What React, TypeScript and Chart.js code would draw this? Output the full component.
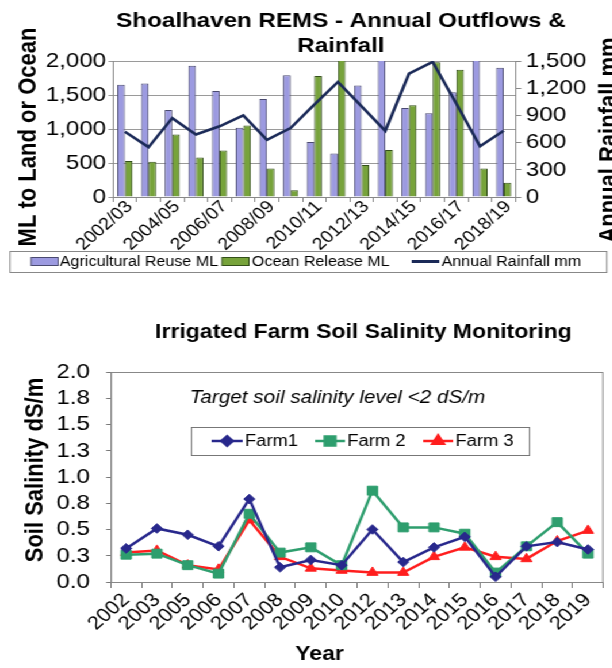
import React, { useEffect, useRef } from 'react';
import { Chart, registerables } from 'chart.js';
import { drawPoint } from 'chart.js/helpers';

Chart.register(...registerables);

// ---------- data ----------
const seasons = ['2002/03', '2003/04', '2004/05', '2005/06', '2006/07', '2007/08', '2008/09', '2009/10', '2010/11', '2011/12', '2012/13', '2013/14', '2014/15', '2015/16', '2016/17', '2017/18', '2018/19'];
const agriculturalReuse = [1650, 1670, 1280, 1930, 1560, 1020, 1440, 1790, 810, 640, 1640, 2100, 1310, 1230, 1540, 2100, 1900];
const oceanRelease = [530, 520, 920, 580, 685, 1050, 420, 100, 1780, 2050, 470, 690, 1350, 1980, 1870, 420, 210];
const annualRainfall = [720, 550, 870, 690, 780, 900, 630, 760, 1020, 1270, 1000, 730, 1360, 1490, 1030, 560, 730];
const outflowTicks = ['0', '500', '1,000', '1,500', '2,000'];
const rainfallTicks = ['0', '300', '600', '900', '1,200', '1,500'];
const topTitleLines = ['Shoalhaven REMS - Annual Outflows &', 'Rainfall'];

const years = ['2002', '2003', '2005', '2006', '2007', '2008', '2009', '2010', '2012', '2013', '2014', '2015', '2016', '2017', '2018', '2019'];
const farm1 = [0.32, 0.51, 0.45, 0.34, 0.79, 0.14, 0.21, 0.16, 0.5, 0.19, 0.33, 0.43, 0.05, 0.34, 0.38, 0.31];
const farm2 = [0.26, 0.27, 0.16, 0.08, 0.65, 0.28, 0.33, 0.16, 0.87, 0.52, 0.52, 0.46, 0.09, 0.34, 0.57, 0.27];
const farm3 = [0.28, 0.3, 0.16, 0.12, 0.59, 0.24, 0.13, 0.11, 0.09, 0.09, 0.24, 0.33, 0.24, 0.22, 0.39, 0.49];
const salinityTicks = ['0.0', '0.3', '0.5', '0.8', '1.0', '1.3', '1.5', '1.8', '2.0'];
const bottomTitle = 'Irrigated Farm Soil Salinity Monitoring';
const targetNote = 'Target soil salinity level <2 dS/m';

// ---------- styling ----------
const SX = 1.15; // horizontal stretch of the reference picture
const W = 532;
const TOP_H = 280;
const BOT_H = 378;
const FONT = '"Liberation Sans", Arial, Helvetica, sans-serif';
const PURPLE = '#9c9ae0';
const GREEN = '#77a33b';
const NAVY_LINE = '#1b2a58';
const F1 = '#28288c';
const F2 = '#2e9e6e';
const F3 = '#ff1e1e';

function rotatedText(ctx: CanvasRenderingContext2D, text: string, x: number, y: number) {
  ctx.save();
  ctx.translate(x, y);
  ctx.rotate(-Math.PI / 2);
  ctx.textAlign = 'center';
  ctx.textBaseline = 'alphabetic';
  ctx.fillText(text, 0, 0);
  ctx.restore();
}

const topDecor = {
  id: 'topDecor',
  afterDraw(chart: any) {
    const ctx: CanvasRenderingContext2D = chart.ctx;
    ctx.save();
    ctx.fillStyle = '#000';
    ctx.textAlign = 'center';
    ctx.textBaseline = 'alphabetic';
    ctx.font = `bold 21px ${FONT}`;
    ctx.fillText(topTitleLines[0], 296.5, 27);
    ctx.fillText(topTitleLines[1], 296.5, 52);
    ctx.font = `bold 22px ${FONT}`;
    rotatedText(ctx, 'ML to Land or Ocean', 31, 137);
    rotatedText(ctx, 'Annual Rainfall mm', 536, 140);

    // category labels (every other season), placed from the category scale
    const xs = chart.scales.x;
    ctx.font = `17px ${FONT}`;
    ctx.textAlign = 'right';
    ctx.textBaseline = 'middle';
    seasons.forEach((s, i) => {
      if (i % 2 !== 0) return;
      const px = xs.getPixelForTick(i);
      ctx.save();
      ctx.translate(px + 4, xs.top + 7);
      ctx.rotate(-Math.PI / 4);
      ctx.fillText(s, 0, 0);
      ctx.restore();
    });

    // legend
    ctx.strokeStyle = '#888';
    ctx.lineWidth = 1;
    ctx.strokeRect(8.7, 251.5, 519, 21);
    const ds = chart.data.datasets;
    const cy = 261.5;
    ctx.font = `14px ${FONT}`;
    ctx.textAlign = 'left';
    ctx.textBaseline = 'middle';
    const items = [
      { x: 27, tx: 52, d: ds[1] },
      { x: 193, tx: 219, d: ds[2] },
    ];
    items.forEach((it) => {
      ctx.fillStyle = it.d.backgroundColor;
      ctx.fillRect(it.x, cy - 4, 23.5, 8);
      ctx.strokeStyle = it.d.borderColor;
      ctx.strokeRect(it.x, cy - 4, 23.5, 8);
      ctx.fillStyle = '#000';
      ctx.fillText(it.d.label, it.tx, cy + 1);
    });
    ctx.strokeStyle = ds[0].borderColor;
    ctx.lineWidth = 3;
    ctx.beginPath();
    ctx.moveTo(358, cy);
    ctx.lineTo(382, cy);
    ctx.stroke();
    ctx.fillStyle = '#000';
    ctx.fillText(ds[0].label, 384, cy + 1);
    ctx.restore();
  },
};

const bottomDecor = {
  id: 'bottomDecor',
  afterDraw(chart: any) {
    const ctx: CanvasRenderingContext2D = chart.ctx;
    const a = chart.chartArea;
    ctx.save();
    ctx.strokeStyle = '#888';
    ctx.lineWidth = 1;
    ctx.strokeRect(a.left + 0.5, a.top + 0.5, a.right - a.left - 1, a.bottom - a.top);

    ctx.fillStyle = '#000';
    ctx.textAlign = 'center';
    ctx.textBaseline = 'alphabetic';
    ctx.font = `bold 20px ${FONT}`;
    ctx.fillText(bottomTitle, 316, 48);
    ctx.fillText('Year', 278, 370);
    ctx.font = `bold 22px ${FONT}`;
    rotatedText(ctx, 'Soil Salinity dS/m', 36.5, 180);
    ctx.font = `italic 18px ${FONT}`;
    ctx.textAlign = 'left';
    ctx.fillText(targetNote, 165, 113);

    // legend
    ctx.strokeStyle = '#777';
    ctx.lineWidth = 1;
    ctx.fillStyle = '#fff';
    ctx.fillRect(166, 137, 294, 28);
    ctx.strokeRect(166.5, 137.5, 294, 28);
    const cy = 151;
    const segs = [
      [184, 211, 213],
      [274, 300, 302],
      [368, 394, 396],
    ];
    ctx.font = `16px ${FONT}`;
    ctx.textBaseline = 'middle';
    chart.data.datasets.forEach((d: any, i: number) => {
      const [x0, x1, tx] = segs[i];
      ctx.strokeStyle = d.borderColor;
      ctx.lineWidth = d.borderWidth;
      ctx.beginPath();
      ctx.moveTo(x0, cy);
      ctx.lineTo(x1, cy);
      ctx.stroke();
      ctx.fillStyle = d.backgroundColor;
      ctx.strokeStyle = d.borderColor;
      drawPoint(ctx, { pointStyle: d.pointStyle, radius: d.pointRadius, rotation: 0, borderWidth: 1 }, (x0 + x1) / 2, cy);
      ctx.fillStyle = '#000';
      ctx.fillText(d.label, tx, cy + 1);
    });
    ctx.restore();
  },
};

export default function App() {
  const topRef = useRef<HTMLCanvasElement>(null);
  const botRef = useRef<HTMLCanvasElement>(null);

  useEffect(() => {
    const topChart = new Chart(topRef.current as HTMLCanvasElement, {
      type: 'bar',
      data: {
        labels: seasons,
        datasets: [
          {
            type: 'line',
            label: 'Annual Rainfall mm',
            data: annualRainfall,
            yAxisID: 'yR',
            borderColor: NAVY_LINE,
            backgroundColor: NAVY_LINE,
            borderWidth: 2.6,
            pointRadius: 0,
            tension: 0,
            order: 0,
          } as any,
          {
            type: 'bar',
            label: 'Agricultural Reuse ML',
            data: agriculturalReuse,
            yAxisID: 'y',
            backgroundColor: PURPLE,
            borderColor: '#4a4a70',
            borderWidth: 1,
            clip: 0,
            order: 1,
            categoryPercentage: 0.64,
            barPercentage: 1,
          } as any,
          {
            type: 'bar',
            label: 'Ocean Release ML',
            data: oceanRelease,
            yAxisID: 'y',
            backgroundColor: GREEN,
            borderColor: '#34501a',
            borderWidth: 1,
            clip: 0,
            order: 1,
            categoryPercentage: 0.64,
            barPercentage: 1,
          } as any,
        ],
      },
      options: {
        responsive: false,
        animation: false,
        layout: { padding: { top: 61, bottom: TOP_H - 197 - 56, left: 0, right: 0 } },
        plugins: { legend: { display: false }, title: { display: false }, tooltip: { enabled: false } },
        scales: {
          x: {
            grid: { offset: true, drawOnChartArea: false, tickLength: 5, color: '#888' },
            border: { color: '#888' },
            ticks: { display: false },
            afterFit: (s: any) => {
              s.height = 56;
            },
          },
          y: {
            position: 'left',
            min: 0,
            max: 2000,
            ticks: {
              autoSkip: false,
              stepSize: 500,
              padding: 2,
              color: '#000',
              font: { family: FONT, size: 21 },
              callback: (_v: any, i: number) => outflowTicks[i],
            },
            grid: { color: '#9a9a9a', tickLength: 4 },
            border: { color: '#888' },
            afterFit: (s: any) => {
              s.width = 98.3;
            },
          },
          yR: {
            position: 'right',
            min: 0,
            max: 1500,
            ticks: {
              autoSkip: false,
              stepSize: 300,
              padding: 4,
              color: '#000',
              font: { family: FONT, size: 21 },
              callback: (_v: any, i: number) => rainfallTicks[i],
            },
            grid: { drawOnChartArea: false, tickLength: 5, color: '#888' },
            border: { color: '#888' },
            afterFit: (s: any) => {
              s.width = W - 448.3;
            },
          },
        },
      } as any,
      plugins: [topDecor],
    });

    const lineDs = (label: string, data: number[], color: string, pointStyle: string, radius: number) => ({
      label,
      data,
      borderColor: color,
      backgroundColor: color,
      pointBackgroundColor: color,
      pointBorderColor: color,
      borderWidth: 2.5,
      pointStyle,
      pointRadius: radius,
      pointBorderWidth: 1,
      tension: 0,
    });

    const botChart = new Chart(botRef.current as HTMLCanvasElement, {
      type: 'line',
      data: {
        labels: years,
        datasets: [
          lineDs('Farm1', farm1, F1, 'rectRot', 4.8),
          lineDs('Farm 2', farm2, F2, 'rect', 6.3),
          lineDs('Farm 3', farm3, F3, 'triangle', 5.6),
        ] as any,
      },
      options: {
        responsive: false,
        animation: false,
        layout: { padding: { top: 82, bottom: BOT_H - 292 - 62, left: 0, right: W - 525 } },
        plugins: { legend: { display: false }, title: { display: false }, tooltip: { enabled: false } },
        scales: {
          x: {
            offset: true,
            grid: { offset: true, drawOnChartArea: false, tickLength: 6, color: '#777' },
            border: { color: '#777' },
            ticks: {
              autoSkip: false,
              minRotation: 45,
              maxRotation: 45,
              padding: 1,
              color: '#000',
              font: { family: FONT, size: 19 },
            },
            afterFit: (s: any) => {
              s.height = 62;
            },
          },
          y: {
            min: 0,
            max: 2,
            ticks: {
              autoSkip: false,
              stepSize: 0.25,
              padding: 14,
              color: '#000',
              font: { family: FONT, size: 21 },
              callback: (_v: any, i: number) => salinityTicks[i],
            },
            grid: { drawOnChartArea: false, tickLength: 4, color: '#777' },
            border: { color: '#777' },
            afterFit: (s: any) => {
              s.width = 96.3;
            },
          },
        },
      } as any,
      plugins: [bottomDecor],
    });

    return () => {
      topChart.destroy();
      botChart.destroy();
    };
  }, []);

  return (
    <div style={{ position: 'absolute', left: 0, top: 0, width: 612, height: 668, overflow: 'hidden', background: '#fff' }}>
      <div style={{ width: W, transform: `scaleX(${SX})`, transformOrigin: '0 0' }}>
        <div style={{ width: W, height: TOP_H }}>
          <canvas ref={topRef} width={W} height={TOP_H} style={{ display: 'block' }} />
        </div>
        <div style={{ width: W, height: BOT_H, marginTop: 10 }}>
          <canvas ref={botRef} width={W} height={BOT_H} style={{ display: 'block' }} />
        </div>
      </div>
    </div>
  );
}
